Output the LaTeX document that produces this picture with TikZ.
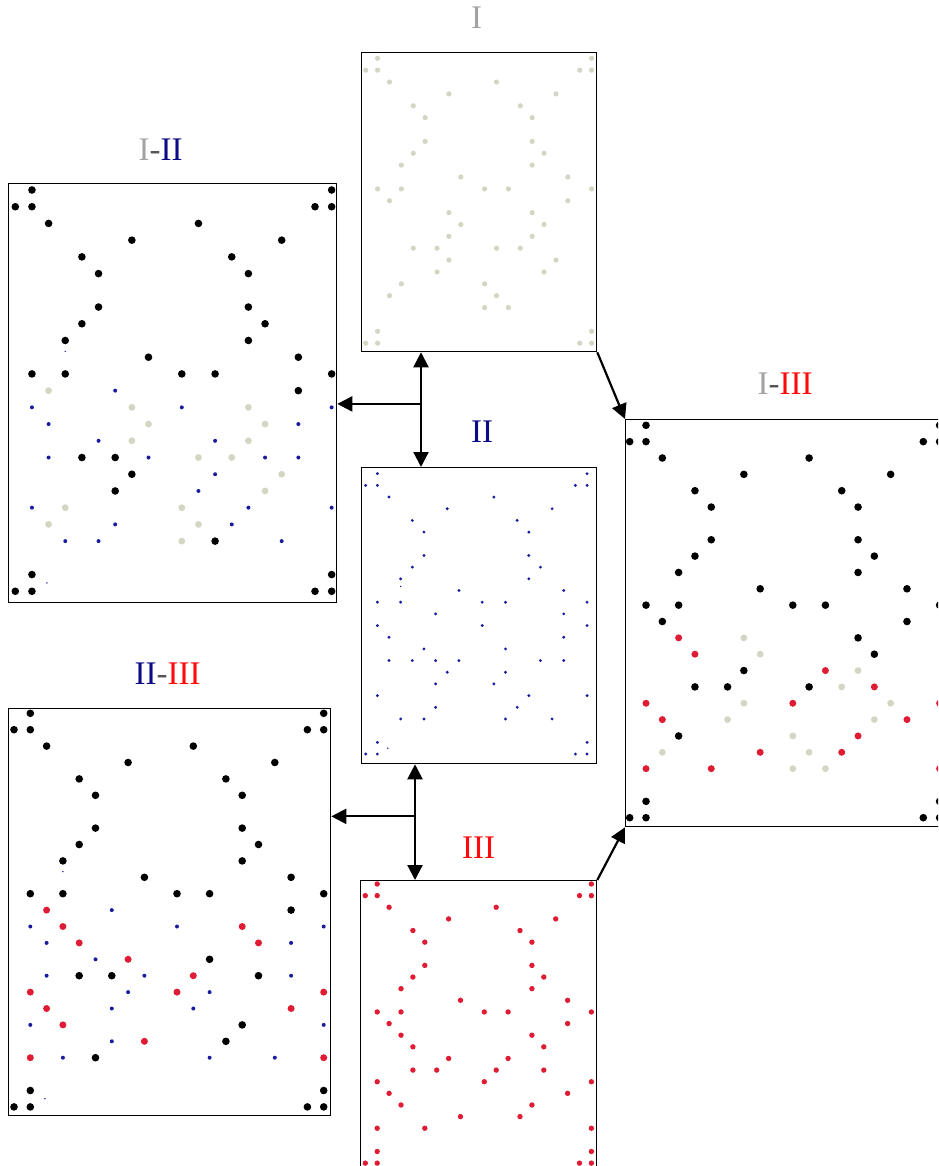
\documentclass[tikz,border=0pt]{standalone}
\usepackage{fontspec}
\setmainfont{Liberation Serif}
\usetikzlibrary{positioning,arrows.meta,calc}
\definecolor{greyI}{HTML}{A3A3A3}
\definecolor{navy}{HTML}{0B0B85}
\definecolor{redIII}{HTML}{FF0A0A}
\definecolor{dashgrey}{HTML}{555555}
\definecolor{sage}{HTML}{D2D6C2}
\definecolor{dotblue}{HTML}{1A1AA0}
\definecolor{dotred}{HTML}{E01C34}

\newcommand{\nI}{\textcolor{greyI}{I}}
\newcommand{\nII}{\textcolor{navy}{II}}
\newcommand{\nIII}{\textcolor{redIII}{III}}
\newcommand{\dash}{\textcolor{dashgrey}{-}}

% dot positions, column/row
\def\dotsedge{1/0,0/1,1/1,19/0,18/1,19/1,1/23,0/24,1/24,19/23,18/24,19/24}
\def\dotsupper{2/2,11/2,7/3,16/3,4/4,13/4,5/5,14/5,5/7,14/7,4/8,15/8,3/9,14/9,8/10,17/10,1/11,3/11,10/11,12/11,19/11}
\edef\dotsI{\dotsedge,\dotsupper,2/12,17/12,7/13,14/13,8/14,15/14,7/15,14/15,4/16,6/16,11/16,13/16,7/17,16/17,6/18,15/18,3/19,10/19,2/20,11/20,10/21,12/21}
\edef\dotsII{\dotsedge,\dotsupper,6/12,17/12,1/13,10/13,19/13,2/14,17/14,5/15,12/15,2/16,4/16,6/16,8/16,15/16,17/16,7/17,12/17,6/18,11/18,1/19,14/19,19/19,6/20,13/20,3/21,5/21,12/21,16/21}
\edef\dotsIII{\dotsedge,\dotsupper,2/12,17/12,3/13,14/13,4/14,15/14,7/15,12/15,4/16,6/16,11/16,15/16,1/17,10/17,19/17,2/18,17/18,3/19,14/19,8/20,13/20,1/21,5/21,19/21}
\def\specksII{3/9.65,1.9/23.5}

\newcommand{\markdots}[2]{\foreach \c/\r in #2 {\expandafter\gdef\csname dot#1-\c-\r\endcsname{}}}
\markdots{I}{\dotsI}
\markdots{II}{\dotsII}
\markdots{III}{\dotsIII}

% shared dots black, the others in their own colour
\newcommand{\mixdots}[6]{%
  \foreach \c/\r in #1 {%
    \ifcsname dot#4-\c-\r\endcsname \fill[shared] (\c,\r) circle;
    \else \fill[#5] (\c,\r) circle; \fi}%
  \foreach \c/\r in #3 {%
    \ifcsname dot#2-\c-\r\endcsname \else \fill[#6] (\c,\r) circle; \fi}}

\begin{document}
\begin{tikzpicture}[x=1pt, y=-1pt,
    panel/.style={draw, line width=1.3pt, inner sep=0pt, anchor=north west},
    lab/.style={font=\fontsize{33}{36}\selectfont, inner sep=0pt},
    dotI/.style={fill=sage, radius=2.6pt},
    dotII/.style={fill=dotblue, radius=1.6pt},
    dotIII/.style={fill=dotred, radius=2.7pt},
    bigI/.style={fill=sage, radius=3.4pt},
    bigII/.style={fill=dotblue, radius=2pt},
    bigIII/.style={fill=dotred, radius=3.5pt},
    shared/.style={fill=black, radius=3.8pt},
    speck/.style={fill=dotblue, radius=0.8pt},
    link/.style={line width=2.2pt},
    >={Triangle[length=15pt, width=15pt]}
  ]
    \useasboundingbox (0,0) rectangle (938,1166);
    \clip (0,0) rectangle (938,1166);

    % single panels
    \node[panel, minimum width=235, minimum height=299] (pI) at (361,52) {};
    \node[panel, minimum width=235, minimum height=296] (pII) at (361,467) {};
    \node[panel, minimum width=236, minimum height=300] (pIII) at (360,880) {};

    % combined panels
    \node[panel, minimum width=328, minimum height=419] (pIxII) at (8,183) {};
    \node[panel, minimum width=322, minimum height=407] (pIIxIII) at (8,708) {};
    \node[panel, minimum width=322, minimum height=407] (pIxIII) at (625,419) {};

    % titles
    \node[lab, above=23pt of pI, xshift=-2.5pt] (tI) {\nI};
    \node[lab, above=24pt of pII, xshift=3pt] (tII) {\nII};
    \node[lab, above=21pt of pIII] (tIII) {\nIII};
    \node[lab, above=22pt of pIxII, xshift=-12pt] (tIxII) {\nI\dash\nII};
    \node[lab, above=23pt of pIIxIII, xshift=-2pt] (tIIxIII) {\nII\dash\nIII};
    \node[lab, above=24pt of pIxIII, xshift=-1.5pt] (tIxIII) {\nI\dash\nIII};

    % dots
    \begin{scope}[shift={($(pI.north west)+(4.7,6.3)$)}, x=11.89pt, y=-11.87pt]
      \foreach \c/\r in \dotsI {\fill[dotI] (\c,\r) circle;}
    \end{scope}
    \begin{scope}[shift={($(pII.north west)+(4.7,6.7)$)}, x=11.65pt, y=-11.68pt]
      \foreach \c/\r in \dotsII {\fill[dotII] (\c,\r) circle;}
      \foreach \c/\r in \specksII {\fill[speck] (\c,\r) circle;}
    \end{scope}
    \begin{scope}[shift={($(pIII.north west)+(5.3,4)$)}, x=11.9pt, y=-11.63pt]
      \foreach \c/\r in \dotsIII {\fill[dotIII] (\c,\r) circle;}
    \end{scope}
    \begin{scope}[shift={($(pIxII.north west)+(7.3,7)$)}, x=16.65pt, y=-16.72pt]
      \mixdots{\dotsI}{I}{\dotsII}{II}{bigI}{bigII}
      \foreach \c/\r in \specksII {\fill[speck] (\c,\r) circle;}
    \end{scope}
    \begin{scope}[shift={($(pIIxIII.north west)+(6,5.3)$)}, x=16.3pt, y=-16.4pt]
      \mixdots{\dotsII}{II}{\dotsIII}{III}{bigII}{bigIII}
      \foreach \c/\r in \specksII {\fill[speck] (\c,\r) circle;}
    \end{scope}
    \begin{scope}[shift={($(pIxIII.north west)+(4.7,6.3)$)}, x=16.31pt, y=-16.35pt]
      \mixdots{\dotsI}{I}{\dotsIII}{III}{bigI}{bigIII}
    \end{scope}

    % connectors
    \coordinate (aI) at ($(pI.south west)+(60,0)$);
    \coordinate (jI) at ($(aI)!0.45!(aI |- pII.north)$);
    \draw[link, <->] (aI) -- (aI |- pII.north);
    \draw[link, ->] (jI) -- (jI -| pIxII.east);

    \coordinate (aII) at ($(pII.south west)+(54,0)$);
    \coordinate (jII) at ($(aII)!0.45!(aII |- pIII.north)$);
    \draw[link, <->] (aII) -- (aII |- pIII.north);
    \draw[link, ->] (jII) -- (jII -| pIIxIII.east);

    \draw[link, ->] (pI.south east) -- (pIxIII.north west);
    \draw[link, ->] (pIII.north east) -- (pIxIII.south west);
  \end{tikzpicture}
\end{document}
